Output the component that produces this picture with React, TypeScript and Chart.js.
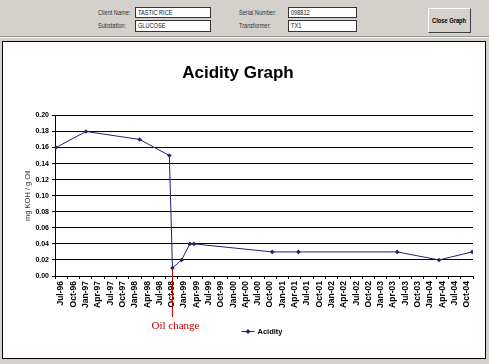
import React, { useEffect, useRef } from "react";
import { Chart, registerables } from "chart.js";

Chart.register(...registerables);

// ---- data ----
const axisStartDate = "1996-07-01";
const axisEndDate = "2005-01-01";
const sampleDates = [
  "1996-07-08", "1997-02-18", "1998-03-21", "1998-10-28", "1998-11-21",
  "1999-01-28", "1999-03-28", "1999-04-28", "2000-12-01", "2001-06-13",
  "2003-06-16", "2004-04-22", "2004-12-25",
];
const acidityValues = [0.16, 0.18, 0.17, 0.15, 0.01, 0.02, 0.04, 0.04, 0.03, 0.03, 0.03, 0.02, 0.03];
const quarterLabels = [
  "Jul-96", "Oct-96", "Jan-97", "Apr-97", "Jul-97", "Oct-97", "Jan-98", "Apr-98", "Jul-98", "Oct-98",
  "Jan-99", "Apr-99", "Jul-99", "Oct-99", "Jan-00", "Apr-00", "Jul-00", "Oct-00", "Jan-01", "Apr-01",
  "Jul-01", "Oct-01", "Jan-02", "Apr-02", "Jul-02", "Oct-02", "Jan-03", "Apr-03", "Jul-03", "Oct-03",
  "Jan-04", "Apr-04", "Jul-04", "Oct-04",
];
const yTickValues = [0, 0.02, 0.04, 0.06, 0.08, 0.1, 0.12, 0.14, 0.16, 0.18, 0.2];
const oilChangeDate = "1998-11-17";
const oilChangeText = "Oil change";
const seriesName = "Acidity";
const chartTitle = "Acidity Graph";
const yAxisTitle = "mg KOH / g Oil";

const formFields = [
  { label: "Client Name:", value: "TASTIC RICE" },
  { label: "Substation:", value: "GLUCOSE" },
  { label: "Serial Number:", value: "098812" },
  { label: "Transformer:", value: "TX1" },
];

// months elapsed since the axis start (a quarter = 3 months)
function monthsSince(date: string): number {
  const [y0, m0] = axisStartDate.split("-").map(Number);
  const [y, m, d] = date.split("-").map(Number);
  return (y - y0) * 12 + (m - m0) + (d - 1) / 30;
}

const SANS = "'Liberation Sans', Arial, sans-serif";
const LINE_COLOR = "#22226e";

const overlayPlugin = {
  id: "oilChangeAndLegend",
  afterDraw(chart: any) {
    const { ctx, chartArea } = chart;
    const xs = chart.scales.x;
    const ys = chart.scales.y;
    ctx.save();
    // oil change marker
    const ox = Math.round(xs.getPixelForValue(monthsSince(oilChangeDate))) + 0.5;
    const oy0 = ys.getPixelForValue(0.0075);
    ctx.strokeStyle = "#c00000";
    ctx.lineWidth = 1;
    ctx.beginPath();
    ctx.moveTo(ox, oy0);
    ctx.lineTo(ox, chartArea.bottom + 41);
    ctx.stroke();
    ctx.fillStyle = "#c00000";
    ctx.font = "11px 'Liberation Serif', 'Times New Roman', serif";
    ctx.textAlign = "center";
    ctx.textBaseline = "middle";
    ctx.fillText(oilChangeText, ox + 3, chartArea.bottom + 50);

    // legend
    ctx.font = `bold 7.5px ${SANS}`;
    const tw = ctx.measureText(seriesName).width;
    const totalW = 13 + 3 + tw;
    const lx = (chartArea.left + chartArea.right) / 2 - 2 - totalW / 2;
    const ly = chartArea.bottom + 55.5;
    ctx.strokeStyle = LINE_COLOR;
    ctx.beginPath();
    ctx.moveTo(lx, ly);
    ctx.lineTo(lx + 13, ly);
    ctx.stroke();
    ctx.fillStyle = LINE_COLOR;
    ctx.beginPath();
    const cx = lx + 6.5;
    ctx.moveTo(cx, ly - 2.5);
    ctx.lineTo(cx + 2.5, ly);
    ctx.lineTo(cx, ly + 2.5);
    ctx.lineTo(cx - 2.5, ly);
    ctx.closePath();
    ctx.fill();
    ctx.fillStyle = "#000";
    ctx.textAlign = "left";
    ctx.fillText(seriesName, lx + 16, ly);
    ctx.restore();
  },
};

function ChartPanel() {
  const ref = useRef<HTMLCanvasElement | null>(null);
  useEffect(() => {
    if (!ref.current) return;
    const points = sampleDates.map((d, i) => ({ x: monthsSince(d), y: acidityValues[i] }));
    const labelCenters = quarterLabels.map((_, i) => i * 3 + 1.5);
    const chart = new Chart(ref.current, {
      type: "line",
      data: {
        datasets: [
          {
            label: seriesName,
            data: points,
            borderColor: LINE_COLOR,
            backgroundColor: LINE_COLOR,
            borderWidth: 1,
            pointStyle: "rectRot",
            pointRadius: 2.3,
            pointBorderWidth: 0,
            tension: 0,
          },
        ],
      },
      options: {
        animation: false,
        responsive: false,
        layout: { padding: { left: 0, right: 12, top: 0, bottom: 49 } },
        plugins: {
          legend: { display: false },
          tooltip: { enabled: false },
          title: {
            display: true,
            text: chartTitle,
            color: "#000",
            font: { family: SANS, size: 17, weight: "bold" },
            padding: { top: 20, bottom: 32 },
          },
        },
        scales: {
          x: {
            type: "linear",
            min: monthsSince(axisStartDate),
            max: monthsSince(axisEndDate),
            afterBuildTicks: (axis: any) => {
              axis.ticks = labelCenters.map((v) => ({ value: v }));
            },
            afterFit: (axis: any) => {
              axis.height = 32;
            },
            grid: {
              offset: true,
              drawOnChartArea: false,
              drawTicks: true,
              tickLength: 3,
              color: "#000",
            },
            border: { color: "#000", width: 1 },
            ticks: {
              autoSkip: false,
              minRotation: 90,
              maxRotation: 90,
              padding: 2,
              color: "#000",
              font: { family: SANS, size: 8.5, weight: "bold" },
              callback: (_v: any, i: number) => quarterLabels[i],
            },
          },
          y: {
            type: "linear",
            min: 0,
            max: 0.2,
            afterBuildTicks: (axis: any) => {
              axis.ticks = yTickValues.map((v) => ({ value: v }));
            },
            afterFit: (axis: any) => {
              axis.width = 52;
            },
            grid: { color: "#000", lineWidth: 1, tickLength: 3 },
            border: { color: "#000", width: 1 },
            ticks: {
              padding: 3,
              color: "#000",
              font: { family: SANS, size: 7, weight: "bold" },
              callback: (v: any) => Number(v).toFixed(2),
            },
            title: {
              display: true,
              text: yAxisTitle,
              color: "#333",
              font: { family: SANS, size: 7.5 },
              padding: { top: 20, bottom: 0 },
            },
          },
        },
      },
      plugins: [overlayPlugin],
    } as any);
    return () => chart.destroy();
  }, []);
  return (
    <canvas
      ref={ref}
      width={482}
      height={314}
      style={{ position: "absolute", left: 3, top: 43, width: 482, height: 314 }}
    />
  );
}

const narrow: React.CSSProperties = {
  display: "inline-block",
  transform: "scaleX(0.8)",
  transformOrigin: "left center",
};

const labelStyle: React.CSSProperties = {
  position: "absolute",
  fontFamily: SANS,
  fontSize: 7,
  color: "#333",
  lineHeight: "10px",
  whiteSpace: "nowrap",
};

const boxStyle: React.CSSProperties = {
  position: "absolute",
  background: "#fff",
  border: "1px solid #333",
  boxSizing: "border-box",
  fontFamily: SANS,
  fontSize: 7,
  color: "#111",
  lineHeight: "9px",
  paddingLeft: 2,
  whiteSpace: "nowrap",
  overflow: "hidden",
};

export default function App() {
  const fieldPos = [
    { lx: 98, bx: 135, bw: 76, y: 7 },
    { lx: 98, bx: 135, bw: 76, y: 20 },
    { lx: 239, bx: 288, bw: 69, y: 7 },
    { lx: 239, bx: 288, bw: 69, y: 20 },
  ];
  return (
    <div
      style={{
        position: "absolute",
        left: 0,
        top: 0,
        width: 489,
        height: 364,
        background: "#d4d1cc",
        overflow: "hidden",
      }}
    >
      <div
        style={{
          position: "absolute",
          left: 0,
          top: 36,
          width: 489,
          height: 0,
          borderTop: "1px solid #9a9894",
          borderBottom: "1px solid #f4f3f0",
        }}
      />
      {formFields.map((f, i) => (
        <React.Fragment key={f.label}>
          <div style={{ ...labelStyle, left: fieldPos[i].lx, top: fieldPos[i].y + 1 }}>
            <span style={narrow}>{f.label}</span>
          </div>
          <div
            style={{
              ...boxStyle,
              left: fieldPos[i].bx,
              top: fieldPos[i].y,
              width: fieldPos[i].bw,
              height: i % 2 === 0 ? 11 : 12,
            }}
          >
            <span style={narrow}>{f.value}</span>
          </div>
        </React.Fragment>
      ))}
      <div
        style={{
          position: "absolute",
          left: 428,
          top: 8,
          width: 43,
          height: 25,
          boxSizing: "border-box",
          background: "#d4d1cc",
          borderTop: "1px solid #fff",
          borderLeft: "1px solid #fff",
          borderRight: "1px solid #404040",
          borderBottom: "1px solid #404040",
          fontFamily: SANS,
          fontSize: 7,
          fontWeight: "bold",
          color: "#000",
          whiteSpace: "nowrap",
          lineHeight: "23px",
          paddingLeft: 3,
        }}
      >
        <span style={{ ...narrow, transform: "scaleX(0.82)" }}>Close Graph</span>
      </div>
      <div
        style={{
          position: "absolute",
          left: 2,
          top: 41,
          width: 484,
          height: 318,
          boxSizing: "border-box",
          background: "#fff",
          border: "1px solid #000",
        }}
      />
      <ChartPanel />
    </div>
  );
}
